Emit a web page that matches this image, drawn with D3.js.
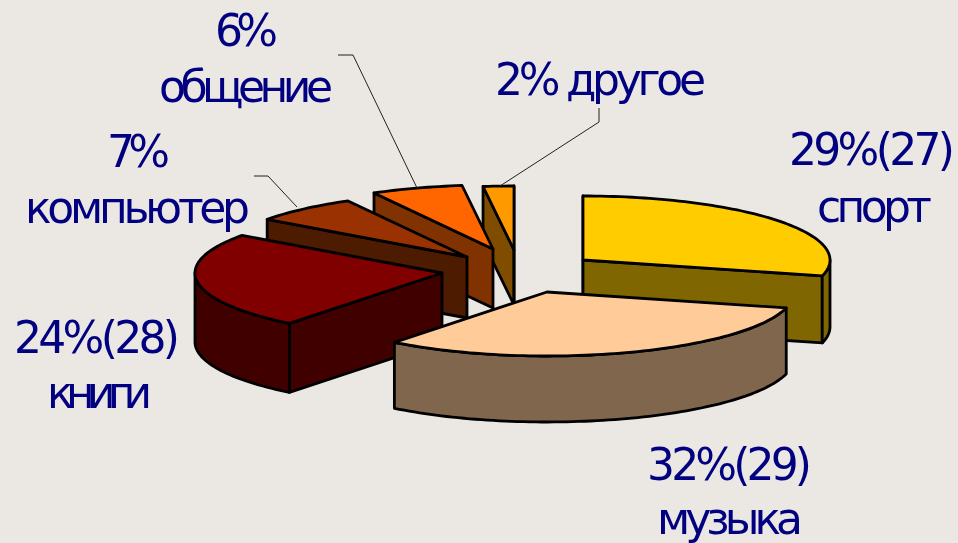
<!DOCTYPE html>
<html>
<head>
<meta charset="utf-8">
<script src="https://cdn.jsdelivr.net/npm/d3@7"></script>
<style>
  html, body { margin: 0; padding: 0; background: #ebe7e3; overflow: hidden; }
  text { font-family: "DejaVu Sans", sans-serif; fill: #000080; }
</style>
</head>
<body>
<svg width="958" height="543"></svg>
<script>
// values, clockwise from 12 o'clock (shown rounded on the labels)
const categories = ["спорт", "музыка", "книги", "компьютер", "общение", "другое"];
const shares = [29, 31.6, 24.4, 7, 6, 2];
const topColors = ["#ffcc00", "#ffcc99", "#800000", "#993300", "#ff6600", "#ff9900"];
const sideColors = ["#806600", "#80664d", "#400000", "#4d1a00", "#803300", "#804d00"];

// label lines, in the same order as categories
const labelLines = [
  ["29%(27)", "спорт"],
  ["32%(29)", "музыка"],
  ["24%(28)", "книги"],
  ["7%", "компьютер"],
  ["6%", "общение"],
  ["2% другое"]
];

// layout: pie centre, how far each slice was pulled out, where the labels sit
const center = { x: 510, y: 265 };
const rx = 247, ry = 64;
const shifts = [[73, -5], [37, 27], [-68, 8], [-43, -8], [-17, -16], [4, -15]];
const depths = [67, 66, 69, 61, 59, 55];
const drawOrder = [5, 4, 3, 0, 2, 1];
const labelBoxes = [
  [[789, 165, 166], [817, 222, 115]],
  [[647, 480, 165], [657, 534, 146]],
  [[14, 353, 166], [47, 408, 105]],
  [[107, 167, 63], [25, 223, 225]],
  [[215, 46, 63], [159, 102, 174]],
  [[495, 95, 211]]
];
const leaders = [
  [[338, 55], [353, 55], [417, 188]],
  [[254, 176], [268, 176], [297, 207]],
  [[599, 108], [599, 122], [500, 186]]
];

const svg = d3.select("svg");
const blur = svg.append("defs").append("filter").attr("id", "soft");
blur.append("feGaussianBlur").attr("stdDeviation", 0.5);
const root = svg.append("g").attr("filter", "url(#soft)");

const pie = d3.pie().sort(null).startAngle(0).endAngle(2 * Math.PI);
const arcs = pie(shares);
const line = d3.line();

// project an angle on the tilted disc
function rim(i, a, drop = 0) {
  return [
    center.x + shifts[i][0] + rx * Math.sin(a),
    center.y + shifts[i][1] - ry * Math.cos(a) + drop
  ];
}
function apex(i, drop = 0) {
  return [center.x + shifts[i][0], center.y + shifts[i][1] + drop];
}
function rimPoints(i, a0, a1, drop = 0) {
  const n = Math.max(2, Math.ceil((a1 - a0) * 40));
  return d3.range(n + 1).map(k => rim(i, a0 + (a1 - a0) * k / n, drop));
}

function addShape(g, pts, fill) {
  g.append("path")
    .attr("d", line(pts) + "Z")
    .attr("fill", fill)
    .attr("stroke", "#000")
    .attr("stroke-width", 2.8)
    .attr("stroke-linejoin", "round");
}

drawOrder.forEach(i => {
  const g = root.append("g").attr("class", "slice");
  const a0 = arcs[i].startAngle, a1 = arcs[i].endAngle;
  const d = depths[i];

  // radial walls, only the ones facing the viewer
  if (Math.sin(a0) < 0.01) {
    addShape(g, [rim(i, a0), apex(i), apex(i, d), rim(i, a0, d)], sideColors[i]);
  }
  if (Math.sin(a1) > -0.01) {
    addShape(g, [rim(i, a1), apex(i), apex(i, d), rim(i, a1, d)], sideColors[i]);
  }

  // outer wall on the front half of the disc
  const from = Math.max(a0, Math.PI / 2), to = Math.min(a1, 1.5 * Math.PI);
  if (to > from) {
    addShape(g, rimPoints(i, from, to).concat(rimPoints(i, from, to, d).reverse()), sideColors[i]);
  }

  addShape(g, [apex(i)].concat(rimPoints(i, a0, a1)), topColors[i]);
});

root.append("g").selectAll("path")
  .data(leaders)
  .enter().append("path")
  .attr("d", d => line(d))
  .attr("fill", "none")
  .attr("stroke", "#222")
  .attr("stroke-width", 1);

labelLines.forEach((lines, i) => {
  lines.forEach((t, j) => {
    const [x, y, w] = labelBoxes[i][j];
    root.append("text")
      .attr("x", x)
      .attr("y", y)
      .attr("font-size", 44)
      .attr("textLength", w)
      .attr("lengthAdjust", "spacing")
      .text(t);
  });
});
</script>
</body>
</html>
